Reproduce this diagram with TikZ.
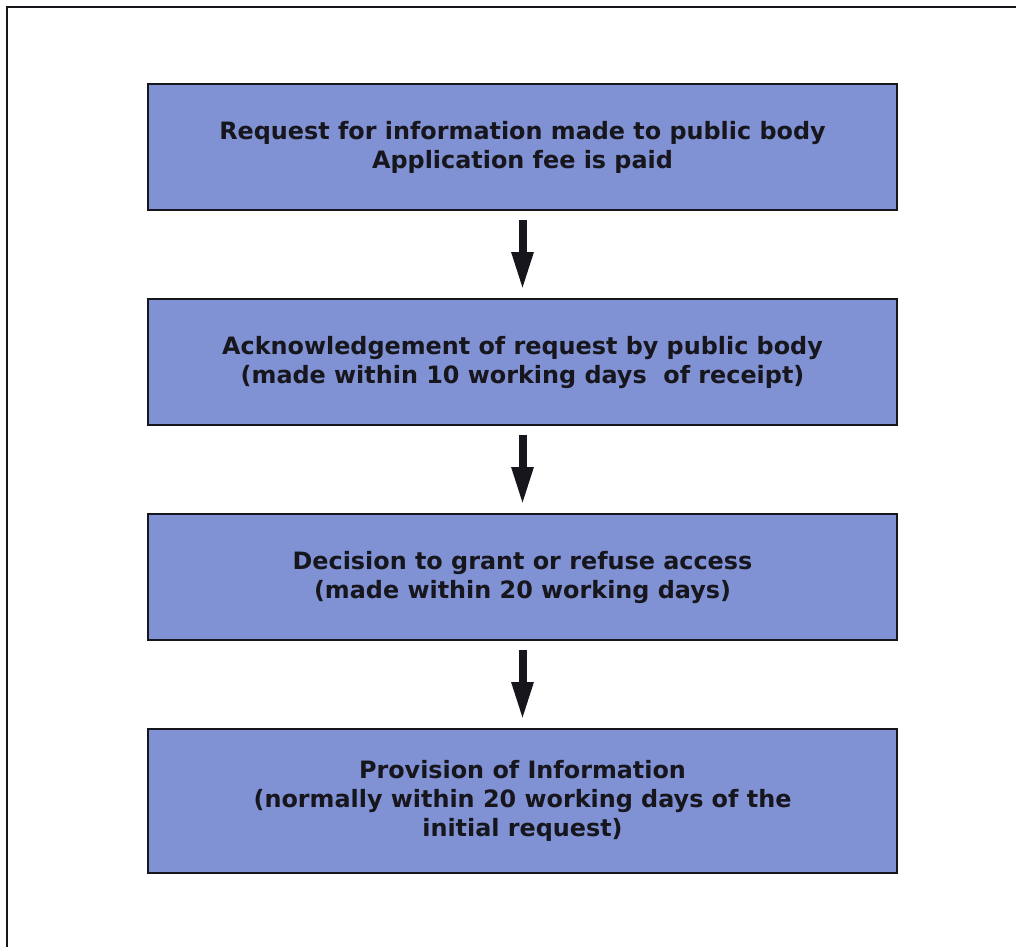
\documentclass[tikz,border=0pt]{standalone}
\usepackage{fontspec}
\setmainfont{DejaVu Sans}
\usetikzlibrary{arrows.meta}
\definecolor{boxfill}{RGB}{128,145,212}
\definecolor{ink}{RGB}{22,22,28}
\tikzset{
  px/.style={x=0.75pt,y=-0.75pt},
  stepbox/.style={draw=ink, line width=2.2pt, fill=boxfill, minimum width=749*0.75pt, inner sep=0pt, align=center,
    font=\fontsize{17.9}{21.75}\selectfont\bfseries, text=ink},
  flow/.style={draw=ink, line width=6pt, -{Triangle[width=15pt,length=28.5pt]}, shorten <=6.5pt, shorten >=5.5pt}
}
\begin{document}
\begin{tikzpicture}[px]
\useasboundingbox (0,0) rectangle (1016,947);
\draw[ink, line width=2.2pt] (7,947) -- (7,7) -- (1016,7);
\node[stepbox, minimum height=126*0.75pt] (b1) at (522.5,147) {Request for information made to public body\\Application fee is paid};
\node[stepbox, minimum height=126*0.75pt] (b2) at (522.5,362) {Acknowledgement of request by public body\\(made within 10 working days\ \ of receipt)};
\node[stepbox, minimum height=126*0.75pt] (b3) at (522.5,577) {Decision to grant or refuse access\\(made within 20 working days)};
\node[stepbox, minimum height=144*0.75pt] (b4) at (522.5,801) {Provision of Information\\(normally within 20 working days of the\\initial request)};
\draw[flow] (b1.south) -- (b2.north);
\draw[flow] (b2.south) -- (b3.north);
\draw[flow] (b3.south) -- (b4.north);
\end{tikzpicture}
\end{document}
